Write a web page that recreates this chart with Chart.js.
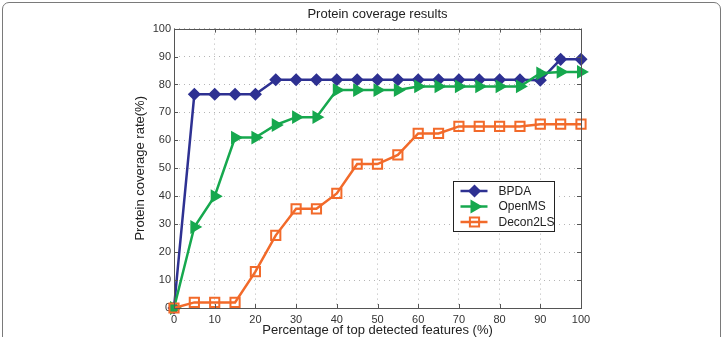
<!DOCTYPE html>
<html>
<head>
<meta charset="utf-8">
<script src="https://cdn.jsdelivr.net/npm/chart.js@4/dist/chart.umd.min.js"></script>
<style>
  html, body { margin: 0; padding: 0; background: #fff; }
  #wrap { position: relative; width: 726px; height: 337px; overflow: hidden; }
  #frame {
    position: absolute; left: 2px; top: 2px; width: 719px; height: 360px;
    border: 1.5px solid #7a7a7a; border-radius: 7px; box-sizing: border-box;
  }
  canvas { position: absolute; left: 0; top: 0; }
</style>
</head>
<body>
<div id="wrap">
  <div id="frame"></div>
  <canvas id="chart" width="726" height="337"></canvas>
</div>
<script>
const percentTop = [0, 5, 10, 15, 20, 25, 30, 35, 40, 45, 50, 55, 60, 65, 70, 75, 80, 85, 90, 95, 100];
const bpda = [0, 76.5, 76.5, 76.5, 76.5, 81.7, 81.7, 81.7, 81.7, 81.7, 81.7, 81.7, 81.7, 81.7, 81.7, 81.7, 81.7, 81.7, 81.5, 89, 89];
const openms = [0, 29, 40, 61, 61, 65.5, 68.3, 68.3, 78, 78, 78, 78, 79.3, 79.3, 79.3, 79.3, 79.3, 79.3, 84, 84.5, 84.5];
const decon2ls = [0, 2, 2, 2, 13, 26, 35.5, 35.5, 41, 51.5, 51.5, 54.8, 62.5, 62.5, 65, 65, 65, 65, 65.8, 65.8, 65.8];
const seriesNames = ['BPDA', 'OpenMS', 'Decon2LS'];
const axisTicks = [0, 10, 20, 30, 40, 50, 60, 70, 80, 90, 100];

const fontFamily = "'Liberation Sans', Arial, Helvetica, sans-serif";
const toPoints = (ys) => ys.map((y, i) => ({ x: percentTop[i], y: y }));

// MATLAB style box with inner tick marks
const axesBox = {
    id: 'axesBox',
    afterDatasetsDraw(chart) {
        const { ctx, chartArea: a, scales } = chart;
        ctx.save();
        ctx.strokeStyle = '#555';
        ctx.lineWidth = 1;
        ctx.beginPath();
        axisTicks.forEach(v => {
            const x = Math.round(scales.x.getPixelForValue(v)) + 0.5;
            ctx.moveTo(x, a.bottom); ctx.lineTo(x, a.bottom - 4);
            ctx.moveTo(x, a.top); ctx.lineTo(x, a.top + 4);
            const y = Math.round(scales.y.getPixelForValue(v)) + 0.5;
            ctx.moveTo(a.left, y); ctx.lineTo(a.left + 4, y);
            ctx.moveTo(a.right, y); ctx.lineTo(a.right - 4, y);
        });
        ctx.stroke();
        ctx.strokeRect(Math.round(a.left) + 0.5, Math.round(a.top) + 0.5,
            Math.round(a.right - a.left), Math.round(a.bottom - a.top));
        ctx.restore();
    }
};

// legend box inside the plot, lower right
const boxLegend = {
    id: 'boxLegend',
    afterDraw(chart) {
        const { ctx } = chart;
        const left = 453.5, top = 181.5, w = 101, h = 50;
        ctx.save();
        ctx.fillStyle = '#fff';
        ctx.fillRect(left, top, w, h);
        ctx.strokeStyle = '#222';
        ctx.lineWidth = 1;
        ctx.strokeRect(left, top, w, h);
        chart.data.datasets.forEach((ds, i) => {
            const y = top + 9.5 + i * 15.5;
            ctx.strokeStyle = ds.borderColor;
            ctx.lineWidth = ds.borderWidth;
            ctx.beginPath();
            ctx.moveTo(left + 7, y);
            ctx.lineTo(left + 34, y);
            ctx.stroke();
            ctx.fillStyle = ds.pointBackgroundColor;
            ctx.strokeStyle = ds.borderColor;
            ctx.lineWidth = ds.pointBorderWidth;
            Chart.helpers.drawPoint(ctx, {
                pointStyle: ds.pointStyle,
                radius: ds.pointRadius,
                rotation: ds.pointRotation || 0,
                borderWidth: ds.pointBorderWidth
            }, left + 21, y);
            ctx.fillStyle = '#222';
            ctx.font = '12px ' + fontFamily;
            ctx.textBaseline = 'middle';
            ctx.fillText(seriesNames[i], left + 45, y + 0.5);
        });
        ctx.restore();
    }
};

new Chart(document.getElementById('chart'), {
    type: 'line',
    data: {
        datasets: [{
            label: seriesNames[0],
            data: toPoints(bpda),
            borderColor: '#2e3192',
            backgroundColor: '#2e3192',
            pointBackgroundColor: '#2e3192',
            pointStyle: 'rectRot',
            pointRadius: 5.5,
            pointBorderWidth: 1.5,
            borderWidth: 2.5,
            order: 3
        }, {
            label: seriesNames[1],
            data: toPoints(openms),
            borderColor: '#16a84e',
            backgroundColor: '#16a84e',
            pointBackgroundColor: '#16a84e',
            pointStyle: 'triangle',
            pointRotation: 90,
            pointRadius: 6.5,
            pointBorderWidth: 1.5,
            borderWidth: 2.5,
            order: 2
        }, {
            label: seriesNames[2],
            data: toPoints(decon2ls),
            borderColor: '#f26a2a',
            backgroundColor: '#f26a2a',
            pointBackgroundColor: 'rgba(255,255,255,0)',
            pointStyle: 'rect',
            pointRadius: 6.5,
            pointBorderWidth: 2,
            borderWidth: 2.5,
            order: 1
        }]
    },
    options: {
        responsive: false,
        animation: false,
        devicePixelRatio: 1,
        clip: false,
        layout: { padding: { left: 0, right: 145, top: 0, bottom: 0 } },
        plugins: {
            legend: { display: false },
            tooltip: { enabled: false },
            title: {
                display: true,
                fullSize: false,
                text: 'Protein coverage results',
                color: '#222',
                font: { family: fontFamily, size: 13, weight: 'normal' },
                padding: { top: 7, bottom: 6 }
            }
        },
        scales: {
            x: {
                type: 'linear',
                min: 0,
                max: 100,
                afterFit: (scale) => { scale.height = 29; },
                afterBuildTicks: (scale) => { scale.ticks = axisTicks.map(v => ({ value: v })); },
                grid: { color: '#b5b5b5', drawTicks: false },
                border: { display: false, dash: [1, 4] },
                ticks: {
                    color: '#333',
                    padding: 5,
                    maxRotation: 0,
                    font: { family: fontFamily, size: 11 }
                },
                title: {
                    display: true,
                    text: 'Percentage of top detected features (%)',
                    color: '#222',
                    font: { family: fontFamily, size: 13, lineHeight: 1 },
                    padding: { top: 0, bottom: 0 }
                }
            },
            y: {
                min: 0,
                max: 100,
                afterFit: (scale) => { scale.width = 174; },
                afterBuildTicks: (scale) => { scale.ticks = axisTicks.map(v => ({ value: v })); },
                grid: { color: '#b5b5b5', drawTicks: false },
                border: { display: false, dash: [1, 4] },
                ticks: {
                    color: '#333',
                    padding: 3,
                    font: { family: fontFamily, size: 11 }
                },
                title: {
                    display: true,
                    text: 'Protein coverage rate(%)',
                    color: '#222',
                    font: { family: fontFamily, size: 13, lineHeight: 1 },
                    padding: { top: 133.5, bottom: 0 }
                }
            }
        }
    },
    plugins: [axesBox, boxLegend]
});
</script>
</body>
</html>
